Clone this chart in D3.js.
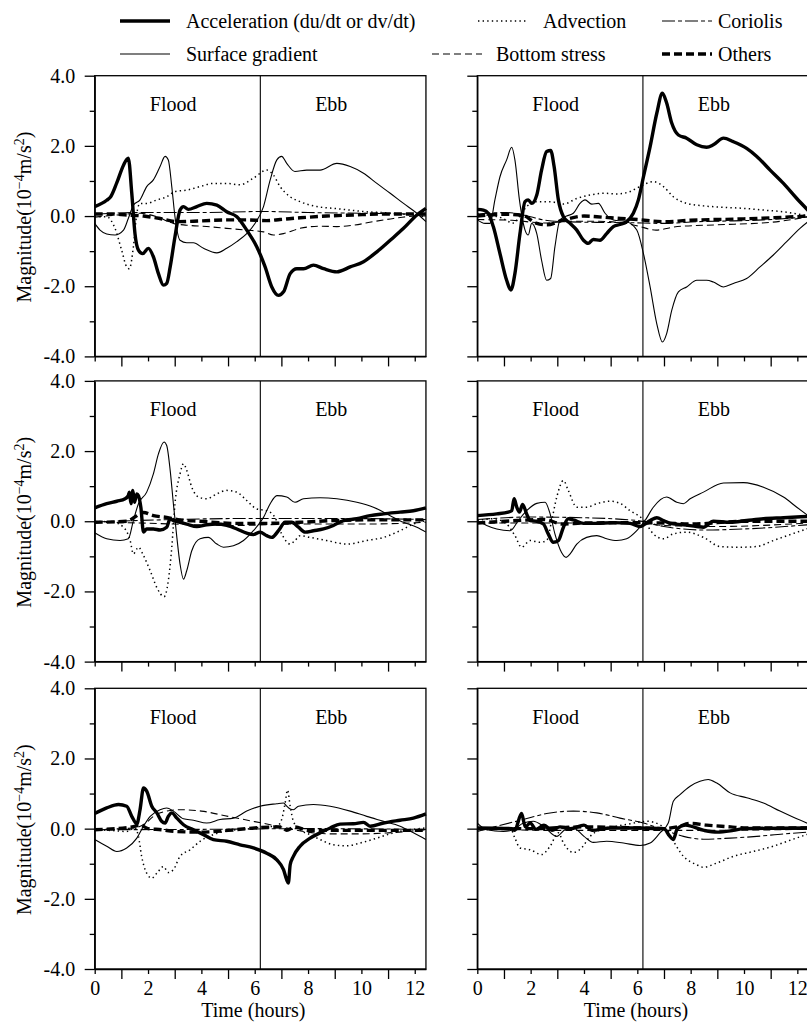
<!DOCTYPE html>
<html><head><meta charset="utf-8">
<script src="https://cdn.jsdelivr.net/npm/d3@7"></script>
<style>
html,body{margin:0;padding:0;background:#fff;}
svg{display:block;font-family:"Liberation Serif","Times New Roman",serif;}
</style></head>
<body><svg id="c" width="807" height="1024"></svg>
<script>
// ---- data: [time (hours), magnitude (1e-4 m/s^2)] ----
const seriesNames = ["Acceleration (du/dt or dv/dt)","Surface gradient","Advection","Bottom stress","Coriolis","Others"];
const xTicks = [0,1,2,3,4,5,6,7,8,9,10,11,12];
const yTicks = [-4,-3,-2,-1,0,1,2,3,4];
const phaseLabels = ["Flood","Ebb"];

// Panel 1 (top-left)
const accel1 = [[0,0.27],[0.45,0.45],[0.6,0.55],[0.83,0.95],[1.08,1.45],[1.26,1.65],[1.39,0.65],[1.51,-0.5],[1.64,-0.97],[1.8,-1.07],[2.01,-0.92],[2.2,-1.16],[2.39,-1.64],[2.58,-1.97],[2.7,-1.92],[2.83,-1.45],[3.01,-0.59],[3.2,0.17],[3.33,0.27],[3.51,0.19],[3.83,0.27],[4.2,0.36],[4.58,0.31],[4.95,0.12],[5.33,-0.02],[5.7,-0.4],[6.08,-0.88],[6.39,-1.45],[6.64,-2.02],[6.89,-2.26],[7.08,-2.16],[7.33,-1.64],[7.58,-1.5],[7.83,-1.5],[8.2,-1.4],[8.58,-1.5],[9.08,-1.59],[9.58,-1.45],[10.08,-1.3],[10.58,-1.02],[11.08,-0.69],[11.58,-0.35],[12.08,0.03],[12.42,0.22]];
const surf1 = [[0,-0.21],[0.2,-0.4],[0.45,-0.51],[0.76,-0.54],[1.08,-0.4],[1.26,-0.07],[1.45,0.31],[1.7,0.46],[1.95,0.84],[2.2,1.03],[2.45,1.41],[2.64,1.7],[2.76,1.6],[2.89,0.84],[3.01,-0.02],[3.2,-0.69],[3.45,-0.76],[3.7,-0.76],[4.08,-0.92],[4.58,-1.05],[4.95,-0.92],[5.33,-0.73],[5.7,-0.5],[6.01,-0.21],[6.33,0.27],[6.58,1.03],[6.83,1.6],[7.01,1.7],[7.2,1.5],[7.51,1.27],[7.95,1.31],[8.45,1.31],[9.08,1.5],[9.58,1.41],[10.08,1.22],[10.58,0.93],[11.08,0.65],[11.58,0.36],[12.08,0.08],[12.42,-0.16]];
const adv1 = [[0,-0.02],[0.45,-0.02],[0.76,-0.35],[1.01,-0.97],[1.2,-1.45],[1.3,-1.5],[1.45,-0.88],[1.58,0.08],[1.7,0.36],[1.95,0.36],[2.33,0.46],[2.7,0.55],[3.01,0.7],[3.45,0.74],[3.95,0.84],[4.45,0.93],[4.95,0.93],[5.45,0.89],[5.95,1.08],[6.45,1.31],[6.7,1.17],[6.95,0.84],[7.33,0.55],[7.7,0.41],[8.33,0.27],[8.95,0.22],[9.58,0.17],[10.2,0.12],[10.83,0.1],[11.45,0.06],[12.08,0.02],[12.42,-0.02]];
const bot1 = [[0,-0.03],[0.83,0.03],[1.7,0.08],[2.33,-0.02],[2.95,-0.21],[3.45,-0.26],[4.2,-0.3],[4.95,-0.35],[5.7,-0.4],[6.33,-0.45],[6.7,-0.54],[7.08,-0.5],[7.7,-0.35],[8.45,-0.29],[9.08,-0.3],[9.7,-0.26],[10.45,-0.16],[11.2,-0.07],[12.08,0],[12.42,0]];
const cor1 = [[0,0.05],[1.5,0.1],[4,0.1],[6.3,0.13],[8,0.1],[10,0.08],[12.42,0.05]];
const oth1 = [[0,0.06],[0.58,0.06],[1.2,0.03],[1.83,0],[2.45,-0.07],[3.08,-0.16],[3.95,-0.14],[4.95,-0.11],[5.7,-0.11],[6.45,-0.13],[6.95,-0.1],[7.7,-0.05],[8.7,0],[9.7,0.03],[10.83,0.06],[12.42,0.06]];

// Panel 2 (top-right)
const accel2 = [[0,0.19],[0.23,0.17],[0.41,0.08],[0.6,-0.3],[0.85,-1.07],[1.1,-1.83],[1.26,-2.11],[1.41,-1.64],[1.6,-0.5],[1.79,0.41],[1.91,0.46],[2.04,0.36],[2.23,0.6],[2.41,1.31],[2.6,1.84],[2.75,1.87],[2.88,1.41],[3.04,0.46],[3.23,-0.02],[3.48,-0.21],[3.73,-0.4],[3.98,-0.69],[4.16,-0.78],[4.35,-0.67],[4.6,-0.69],[4.85,-0.5],[5.1,-0.3],[5.35,-0.24],[5.6,-0.16],[5.85,0.08],[6.04,0.46],[6.23,1.12],[6.48,1.98],[6.73,2.93],[6.94,3.5],[7.1,3.22],[7.29,2.65],[7.54,2.31],[7.85,2.22],[8.23,2.03],[8.6,1.96],[8.85,2.03],[9.23,2.22],[9.6,2.12],[10.1,1.93],[10.48,1.7],[10.98,1.31],[11.48,0.93],[11.98,0.5],[12.42,0.15]];
const surf2 = [[0,-0.11],[0.29,-0.21],[0.48,-0.21],[0.66,0.46],[0.85,1.12],[1.1,1.6],[1.29,1.96],[1.41,1.6],[1.58,0.46],[1.79,-0.4],[1.91,-0.54],[2.04,-0.21],[2.23,-0.5],[2.41,-1.26],[2.6,-1.83],[2.75,-1.78],[2.91,-0.88],[3.1,-0.11],[3.35,0],[3.6,0.08],[3.85,0.36],[4.04,0.46],[4.29,0.34],[4.54,0.36],[4.79,0.08],[5.1,-0.11],[5.6,-0.16],[5.98,-0.4],[6.23,-1.07],[6.48,-2.02],[6.73,-3.07],[6.94,-3.59],[7.1,-3.35],[7.29,-2.69],[7.54,-2.16],[7.85,-2.02],[8.23,-1.83],[8.6,-1.83],[8.85,-1.88],[9.23,-2.02],[9.6,-1.92],[10.1,-1.78],[10.6,-1.45],[11.1,-1.11],[11.6,-0.73],[12.1,-0.35],[12.42,-0.15]];
const adv2 = [[0,0.06],[0.35,0.03],[0.9,-0.05],[1.35,-0.2],[1.6,0.0],[1.85,0.27],[2.23,0.41],[2.73,0.41],[3.23,0.34],[3.73,0.5],[4.23,0.6],[4.73,0.65],[5.23,0.63],[5.73,0.7],[6.1,0.84],[6.6,0.98],[6.98,0.84],[7.35,0.55],[7.85,0.36],[8.48,0.29],[9.23,0.25],[9.98,0.22],[10.73,0.17],[11.48,0.12],[12.42,0]];
const bot2 = [[0,-0.1],[1.3,-0.12],[2.5,-0.2],[3.5,-0.15],[4.5,-0.15],[5.5,-0.2],[6,-0.28],[6.7,-0.4],[7.5,-0.3],[9,-0.25],[11,-0.18],[12.42,-0.02]];
const cor2 = [[0,0.06],[1.1,0.1],[1.73,0.03],[2.48,-0.11],[3.23,-0.16],[4.48,-0.18],[5.73,-0.19],[6.98,-0.21],[8.23,-0.16],[9.48,-0.14],[10.73,-0.11],[12.42,-0.02]];
const oth2 = [[0,0],[1,0.05],[1.7,0.02],[2.2,-0.2],[2.6,-0.25],[3.2,-0.12],[4,0],[5,-0.05],[6,-0.1],[7,-0.16],[8,-0.12],[10,-0.08],[12.42,0]];

// Panel 3 (middle-left)
const accel3 = [[0,0.38],[0.45,0.5],[0.83,0.57],[1.14,0.64],[1.26,0.73],[1.3,0.83],[1.36,0.5],[1.43,0.88],[1.49,0.54],[1.58,0.78],[1.64,0.73],[1.73,0.4],[1.83,-0.31],[1.95,-0.22],[2.2,-0.22],[2.45,-0.25],[2.7,-0.17],[2.83,0.07],[2.95,0.02],[3.2,-0.03],[3.45,-0.08],[3.83,-0.15],[4.2,-0.1],[4.58,-0.08],[4.95,-0.12],[5.33,-0.22],[5.7,-0.34],[5.95,-0.38],[6.2,-0.31],[6.45,-0.41],[6.64,-0.46],[6.89,-0.27],[7.14,-0.03],[7.39,-0.03],[7.64,-0.17],[7.89,-0.31],[8.2,-0.27],[8.58,-0.22],[8.95,-0.12],[9.33,0.02],[9.83,0.07],[10.33,0.16],[10.83,0.21],[11.45,0.26],[11.95,0.3],[12.42,0.38]];
const surf3 = [[0,-0.33],[0.45,-0.5],[0.95,-0.55],[1.26,-0.5],[1.45,0.02],[1.64,0.5],[1.95,0.83],[2.2,1.35],[2.39,1.92],[2.6,2.26],[2.7,2.16],[2.83,1.45],[2.95,0.5],[3.08,-0.46],[3.2,-1.22],[3.33,-1.65],[3.45,-1.41],[3.64,-0.84],[3.95,-0.5],[4.26,-0.46],[4.58,-0.65],[4.83,-0.74],[5.2,-0.7],[5.58,-0.55],[5.95,-0.27],[6.33,0.11],[6.58,0.5],[6.83,0.73],[7.2,0.69],[7.51,0.54],[7.83,0.64],[8.45,0.67],[9.08,0.64],[9.83,0.54],[10.45,0.4],[11.08,0.16],[11.58,-0.03],[12.08,-0.17],[12.42,-0.31]];
const adv3 = [[0,0],[0.7,-0.03],[1.08,-0.17],[1.33,-0.55],[1.45,-0.93],[1.64,-0.74],[1.83,-0.98],[2.08,-1.41],[2.33,-1.89],[2.6,-2.15],[2.76,-1.7],[2.89,-0.74],[3.01,0.5],[3.2,1.35],[3.33,1.64],[3.45,1.45],[3.64,0.97],[3.89,0.69],[4.2,0.64],[4.58,0.78],[4.95,0.88],[5.33,0.83],[5.7,0.59],[6.08,0.35],[6.45,0.3],[6.76,0.11],[7.01,-0.36],[7.33,-0.65],[7.51,-0.55],[7.7,-0.41],[8.08,-0.46],[8.7,-0.55],[9.45,-0.65],[10.2,-0.55],[10.83,-0.46],[11.45,-0.27],[11.95,-0.08],[12.42,0.02]];
const bot3 = [[0,-0.03],[1.7,-0.05],[2.95,-0.08],[5.2,-0.12],[7.7,-0.08],[10.2,-0.08],[12.42,-0.03]];
const cor3 = [[0,-0.02],[3,0.05],[6,0.08],[9,0.08],[12.42,0.05]];
const oth3 = [[0,-0.03],[1.2,0],[1.83,0.25],[2.2,0.16],[2.7,0.11],[3.2,0.04],[3.95,0],[5.2,-0.06],[6.45,-0.06],[7.7,-0.03],[8.95,0.02],[10.2,0.04],[12.42,0.04]];

// Panel 4 (middle-right)
const accel4 = [[0,0.16],[0.73,0.21],[1.16,0.26],[1.29,0.3],[1.38,0.64],[1.48,0.4],[1.58,0.26],[1.7,0.48],[1.85,0.21],[1.98,0.02],[2.23,0],[2.48,-0.08],[2.66,-0.36],[2.85,-0.6],[3.04,-0.55],[3.23,-0.17],[3.41,0.07],[3.6,0.04],[3.98,-0.06],[4.48,-0.06],[5.1,-0.04],[5.73,-0.06],[6.1,-0.15],[6.48,0.02],[6.73,0.1],[6.98,0.02],[7.23,-0.06],[7.73,-0.1],[8.23,-0.15],[8.48,-0.17],[8.85,0],[9.48,-0.03],[10.1,0.02],[10.73,0.07],[11.48,0.1],[12.42,0.14]];
const surf4 = [[0,0.02],[0.35,-0.12],[0.73,-0.22],[1.23,-0.27],[1.54,0.02],[1.85,0.3],[2.23,0.51],[2.54,0.54],[2.73,0.21],[2.91,-0.36],[3.16,-0.89],[3.33,-1.03],[3.48,-0.93],[3.73,-0.65],[4.1,-0.46],[4.48,-0.41],[4.85,-0.5],[5.23,-0.55],[5.6,-0.5],[5.98,-0.27],[6.29,0.02],[6.6,0.4],[7.1,0.69],[7.48,0.54],[7.73,0.5],[7.98,0.64],[8.48,0.83],[9.23,1.09],[9.98,1.1],[10.73,0.97],[11.48,0.69],[11.98,0.4],[12.42,0.15]];
const adv4 = [[0,0.02],[0.6,0.07],[1.1,-0.08],[1.41,-0.41],[1.66,-0.74],[1.98,-0.55],[2.35,-0.6],[2.6,-0.55],[2.79,0.02],[2.98,0.69],[3.23,1.16],[3.41,0.88],[3.73,0.4],[4.1,0.4],[4.48,0.5],[4.98,0.57],[5.35,0.51],[5.73,0.3],[6.23,0.04],[6.6,-0.36],[6.98,-0.5],[7.35,-0.36],[7.85,-0.31],[8.48,-0.46],[9.1,-0.72],[9.85,-0.74],[10.48,-0.72],[11.1,-0.55],[11.73,-0.38],[12.42,-0.2]];
const bot4 = [[0,-0.05],[3,-0.05],[6,-0.05],[7,-0.12],[9,-0.15],[12.42,-0.05]];
const cor4 = [[0,0.05],[2,0.12],[4,0.1],[6,0.02],[7,-0.15],[8.5,-0.25],[10,-0.22],[12.42,-0.1]];
const oth4 = [[0,-0.05],[1.5,0.02],[2.5,0.05],[3.2,-0.08],[4,-0.05],[6,-0.04],[7,-0.05],[8,-0.08],[10,0],[12.42,0]];

// Panel 5 (bottom-left)
const accel5 = [[0,0.43],[0.45,0.59],[0.89,0.69],[1.2,0.64],[1.39,0.35],[1.58,0.14],[1.7,0.54],[1.83,1.16],[1.95,1.07],[2.14,0.64],[2.33,0.45],[2.51,0.21],[2.64,0.16],[2.76,0.35],[2.89,0.45],[3.08,0.3],[3.33,0.11],[3.7,-0.03],[4.08,-0.17],[4.45,-0.31],[4.95,-0.36],[5.45,-0.46],[5.95,-0.55],[6.45,-0.7],[6.83,-0.89],[7.08,-1.17],[7.2,-1.46],[7.26,-1.55],[7.33,-1.03],[7.45,-0.79],[7.7,-0.5],[8.08,-0.27],[8.45,-0.12],[8.83,0.02],[9.2,0.13],[9.7,0.14],[10.08,0.18],[10.33,0.07],[10.83,0.16],[11.45,0.24],[11.95,0.3],[12.42,0.42]];
const surf5 = [[0,-0.31],[0.45,-0.5],[0.83,-0.65],[1.2,-0.55],[1.58,-0.27],[1.83,0.07],[2.08,0.35],[2.45,0.54],[2.7,0.59],[2.95,0.5],[3.33,0.28],[3.7,0.24],[4.2,0.16],[4.7,0.26],[5.2,0.3],[5.7,0.5],[6.2,0.64],[6.83,0.71],[7.08,0.73],[7.2,0.64],[7.33,0.56],[7.45,0.54],[7.64,0.64],[8.2,0.69],[8.83,0.64],[9.58,0.5],[10.2,0.35],[10.83,0.21],[11.45,0.07],[11.95,-0.12],[12.42,-0.31]];
const adv5 = [[0,-0.03],[0.58,-0.05],[1.2,-0.08],[1.51,0.02],[1.64,-0.22],[1.76,-0.79],[1.95,-1.27],[2.14,-1.41],[2.33,-1.27],[2.58,-1.08],[2.76,-1.25],[2.95,-1.17],[3.2,-0.79],[3.58,-0.6],[3.95,-0.36],[4.45,-0.17],[5.08,-0.05],[5.7,-0.01],[6.33,0.05],[6.83,0.07],[7.01,0.26],[7.14,0.73],[7.23,1.1],[7.33,0.64],[7.45,0.21],[7.7,-0.03],[8.08,-0.17],[8.45,-0.31],[8.95,-0.46],[9.45,-0.49],[9.95,-0.41],[10.58,-0.27],[11.2,-0.12],[11.83,-0.03],[12.42,0.02]];
const bot5 = [[0,-0.02],[1.5,0.02],[1.9,0.15],[2.2,0.35],[2.7,0.5],[3.2,0.54],[4,0.5],[5,0.35],[6,0.2],[7,0.05],[8,-0.1],[9,-0.15],[10,-0.15],[11,-0.12],[12.42,-0.03]];
const cor5 = [[0,-0.03],[4,-0.02],[8,0],[12.42,-0.02]];
const oth5 = [[0,-0.03],[1.4,0.05],[1.7,0.1],[2,0],[2.5,-0.03],[3,-0.08],[4,-0.1],[5,-0.05],[6,0.02],[7,0.05],[7.2,-0.05],[7.5,0.05],[8,-0.05],[9,-0.05],[10,-0.05],[12.42,-0.05]];

// Panel 6 (bottom-right)
const accel6 = [[0,0.02],[1.3,0],[1.4,-0.05],[1.66,0.43],[1.8,0.05],[1.98,0.16],[2.2,-0.02],[2.5,0.1],[2.8,-0.05],[3.1,0.05],[3.5,0],[4,0.1],[4.3,-0.05],[5,0.02],[6,0.02],[7,0],[7.2,-0.2],[7.35,-0.31],[7.5,0],[7.8,0.1],[8.5,-0.05],[9,-0.1],[9.6,-0.05],[10,0],[12.42,0.02]];
const surf6 = [[0,0.16],[0.35,-0.03],[0.98,-0.08],[1.35,-0.03],[1.73,0.16],[2.1,0.21],[2.48,0.07],[2.98,-0.22],[3.29,-0.03],[3.6,0.02],[4,-0.22],[4.35,-0.39],[4.85,-0.36],[5.48,-0.41],[6.1,-0.48],[6.48,-0.41],[6.85,-0.12],[7.16,0.16],[7.35,0.78],[7.6,0.97],[7.98,1.21],[8.35,1.35],[8.66,1.4],[8.98,1.3],[9.48,1.02],[10.1,0.88],[10.73,0.73],[11.35,0.5],[11.98,0.28],[12.42,0.14]];
const adv6 = [[0,-0.03],[0.73,-0.01],[1.23,0.02],[1.41,-0.27],[1.6,-0.55],[1.98,-0.6],[2.41,-0.74],[2.73,-0.5],[3.04,-0.12],[3.23,-0.41],[3.6,-0.68],[3.91,-0.55],[4.23,-0.22],[4.73,0],[5.23,0.07],[5.73,0.14],[6.35,0.21],[6.85,0.11],[7.23,-0.22],[7.73,-0.79],[8.23,-1.03],[8.48,-1.1],[8.98,-0.98],[9.6,-0.79],[10.35,-0.65],[11.1,-0.5],[11.73,-0.33],[12.42,-0.15]];
const bot6 = [[0,0],[3,-0.05],[6,-0.05],[8,-0.05],[12.42,-0.02]];
const cor6 = [[0,-0.08],[0.73,0.07],[1.73,0.26],[2.6,0.43],[3.6,0.5],[4.48,0.45],[5.35,0.3],[6.23,0.16],[6.98,-0.03],[7.73,-0.22],[8.48,-0.3],[9.48,-0.27],[10.48,-0.22],[11.48,-0.15],[12.42,-0.1]];
const oth6 = [[0,0],[2,0],[4,0.05],[6,0.02],[7,0],[7.5,0.05],[8,0.15],[8.6,0.1],[9.5,0.05],[10,0.02],[12.42,0.02]];

const tideEnd = 12.42, slackTime = 6.21;

// ---- styles ----
const styles = {
  cor:  {w:1.1, dash:"13,3,4,3"},
  bot:  {w:1.1, dash:"7,4"},
  adv:  {w:1.5, dash:"1.4,3.2"},
  surf: {w:1.1, dash:null},
  oth:  {w:3.4, dash:"8,4"},
  accel:{w:3.4, dash:null}
};
const drawOrder = ["cor","bot","adv","surf","oth","accel"];

const panels = [
  {row:0,col:0,s:{accel:accel1,surf:surf1,adv:adv1,bot:bot1,cor:cor1,oth:oth1}},
  {row:0,col:1,s:{accel:accel2,surf:surf2,adv:adv2,bot:bot2,cor:cor2,oth:oth2}},
  {row:1,col:0,s:{accel:accel3,surf:surf3,adv:adv3,bot:bot3,cor:cor3,oth:oth3}},
  {row:1,col:1,s:{accel:accel4,surf:surf4,adv:adv4,bot:bot4,cor:cor4,oth:oth4}},
  {row:2,col:0,s:{accel:accel5,surf:surf5,adv:adv5,bot:bot5,cor:cor5,oth:oth5}},
  {row:2,col:1,s:{accel:accel6,surf:surf6,adv:adv6,bot:bot6,cor:cor6,oth:oth6}}
];

const svg = d3.select("#c");
const colX = [94.7, 477.3];
const rowY = [75.7, 380.9, 688.3];
const pw = 26.67*tideEnd, ph = 280.7;
const FS = 20;

panels.forEach(p=>{
  const x0 = colX[p.col], y0 = rowY[p.row];
  const x = d3.scaleLinear().domain([0,tideEnd]).range([x0, x0+pw]);
  const y = d3.scaleLinear().domain([-4,4]).range([y0+ph, y0]);
  const g = svg.append("g");

  // lines
  const line = d3.line().x(d=>x(d[0])).y(d=>y(d[1])).curve(d3.curveMonotoneX);
  drawOrder.forEach(k=>{
    const st = styles[k];
    g.append("path").datum(p.s[k]).attr("d",line)
      .attr("fill","none").attr("stroke","#000").attr("stroke-width",st.w)
      .attr("stroke-dasharray",st.dash).attr("stroke-linejoin","round");
  });

  // slack divider
  g.append("line").attr("x1",x(slackTime)).attr("x2",x(slackTime))
    .attr("y1",y(4)).attr("y2",y(-4)).attr("stroke","#000").attr("stroke-width",1.1);

  // border
  g.append("rect").attr("x",x0).attr("y",y0).attr("width",pw).attr("height",ph)
    .attr("fill","none").attr("stroke","#000").attr("stroke-width",1.3);

  // y axis
  const ya = g.append("g").attr("transform",`translate(${x0},0)`)
    .call(d3.axisLeft(y).tickValues(yTicks).tickSize(10).tickSizeOuter(0).tickPadding(9.5)
      .tickFormat(d => (p.col===0 && d%2===0) ? d.toFixed(1) : ""));
  ya.select(".domain").attr("stroke-width",1.3);
  ya.selectAll(".tick line").attr("x2", d => d%2===0 ? -10 : -5).attr("stroke-width",1.3);
  ya.selectAll(".tick text").attr("font-size",FS).attr("font-family","Liberation Serif").attr("fill","#000");

  // x axis
  const xa = g.append("g").attr("transform",`translate(0,${y0+ph})`)
    .call(d3.axisBottom(x).tickValues(xTicks).tickSize(10).tickSizeOuter(0).tickPadding(1.5)
      .tickFormat(d => (p.row===2 && d%2===0) ? String(d) : ""));
  xa.select(".domain").attr("stroke-width",1.3);
  xa.selectAll(".tick line").attr("y2", d => d%2===0 ? 5 : 10).attr("stroke-width",1.3);
  xa.selectAll(".tick text").attr("font-size",FS).attr("font-family","Liberation Serif").attr("fill","#000");

  // phase labels
  g.append("text").attr("x",x(2.94)).attr("y",y0+35.5).attr("text-anchor","middle")
    .attr("font-size",FS).text(phaseLabels[0]);
  g.append("text").attr("x",x(8.87)).attr("y",y0+35.5).attr("text-anchor","middle")
    .attr("font-size",FS).text(phaseLabels[1]);

  // y title
  if (p.col===0) {
    const t = g.append("text").attr("transform",`translate(31,${y(0)+1}) rotate(-90)`)
      .attr("text-anchor","middle").attr("font-size",FS);
    t.append("tspan").text("Magnitude(10");
    t.append("tspan").attr("dy",-7).attr("font-size",14).text("\u22124");
    t.append("tspan").attr("dy",7).text("m/s");
    t.append("tspan").attr("dy",-7).attr("font-size",14).text("2");
    t.append("tspan").attr("dy",7).text(")");
  }
  // x title
  if (p.row===2) {
    g.append("text").attr("x",x(5.95)).attr("y",1016.5).attr("text-anchor","middle")
      .attr("font-size",FS).text("Time (hours)");
  }
});

// ---- legend ----
const legendItems = [
  {k:"accel", name:seriesNames[0], lx:120, tx:186, y:21},
  {k:"adv",   name:seriesNames[2], lx:478, tx:543, y:21},
  {k:"cor",   name:seriesNames[4], lx:662, tx:718, y:21},
  {k:"surf",  name:seriesNames[1], lx:120, tx:186, y:54},
  {k:"bot",   name:seriesNames[3], lx:432, tx:496, y:54},
  {k:"oth",   name:seriesNames[5], lx:662, tx:718, y:54}
];
const lg = svg.append("g");
legendItems.forEach(it=>{
  const st = styles[it.k];
  lg.append("line").attr("x1",it.lx).attr("x2",it.lx+50).attr("y1",it.y).attr("y2",it.y)
    .attr("stroke","#000").attr("stroke-width",st.w).attr("stroke-dasharray",st.dash);
  lg.append("text").attr("x",it.tx).attr("y",it.y+7).attr("font-size",FS).text(it.name);
});
</script></body></html>
